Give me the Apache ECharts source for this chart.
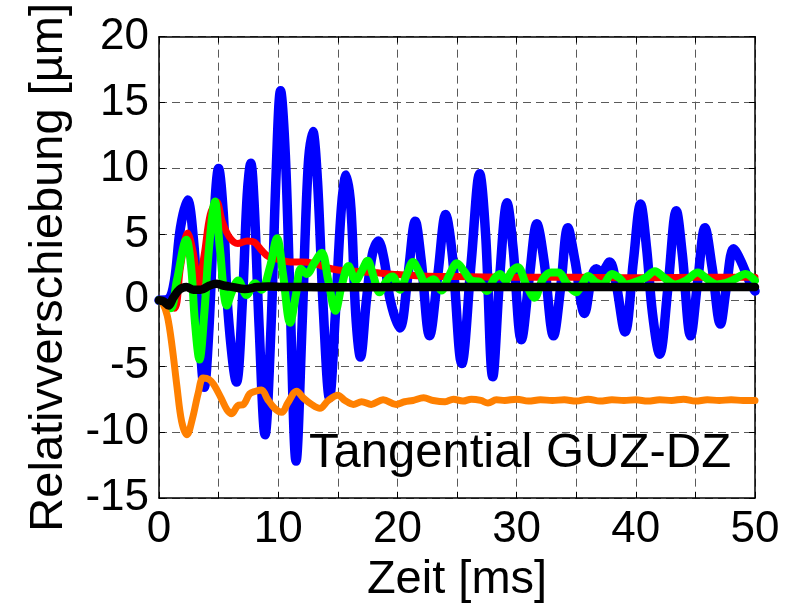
<!DOCTYPE html>
<html>
<head>
<meta charset="utf-8">
<script src="https://cdn.jsdelivr.net/npm/echarts@6/dist/echarts.min.js"></script>
<style>
  html, body { margin: 0; padding: 0; background: #fff; }
  #chart { width: 798px; height: 612px; }
</style>
</head>
<body>
<div id="chart"></div>
<script>
// Relative displacement traces, time in ms, displacement in µm
const blueT = [0, 0.8, 1.3, 1.8, 2.4, 2.9, 3.3, 3.8, 4.2, 4.6, 5.0, 5.4, 5.8, 6.5, 7.0, 7.4, 7.7, 8.0, 8.4, 8.9, 9.4, 9.8, 10.2, 10.6, 11.0, 11.5, 12.0, 12.5, 12.9, 13.3, 13.8, 14.3, 14.8, 15.3, 15.7, 16.1, 16.5, 16.9, 17.4, 17.9, 18.4, 18.9, 19.4, 20.2, 20.9, 21.5, 22.0, 22.7, 23.4, 24.05, 24.6, 25.4, 26.2, 26.9, 27.4, 28.0, 28.6, 29.2, 29.7, 30.4, 31.1, 31.7, 32.3, 33.1, 33.7, 34.3, 34.9, 35.7, 36.3, 36.7, 37.1, 37.8, 38.3, 39.1, 39.8, 40.4, 40.9, 41.4, 42.0, 42.7, 43.4, 43.9, 44.6, 45.2, 45.8, 46.4, 47.1, 47.6, 48.2, 48.8, 49.5, 50.0];
const blueY = [0, 0.1, 1.5, 5.5, 7.6, 4.5, -1.0, -6.6, -2.0, 6.0, 10.0, 6.5, -1.0, -6.2, 0, 8.0, 10.4, 7.0, -2.0, -10.2, -2.0, 9.0, 15.9, 11.0, 0, -12.2, -2.0, 10.0, 12.8, 9.0, -1.0, -7.4, -1.0, 7.0, 9.5, 7.0, -1.0, -4.3, 0, 3.5, 4.5, 3.0, 0, -2.1, 2.0, 6.0, 3.0, -2.7, 2.0, 6.5, 3.5, -4.8, 3.0, 9.6, 5.0, -5.8, 2.0, 7.4, 4.0, -3.0, 2.0, 5.8, 3.0, -2.7, 1.0, 5.5, 3.0, -1.0, 1.8, 2.4, 2.1, 2.9, 1.5, -2.4, 3.0, 7.3, 4.0, -1.0, -4.1, 1.0, 6.8, 3.5, -2.7, 1.5, 5.5, 2.5, -1.8, 1.0, 3.9, 3.0, 1.5, 0.7];

const redT = [0, 0.7, 1.3, 1.8, 2.4, 2.9, 3.3, 3.8, 4.3, 4.85, 5.3, 5.9, 6.6, 7.4, 8.0, 8.6, 9.2, 10.0, 11.0, 12.0, 13.0, 14.0, 15.0, 16.5, 18.0, 20.0, 22.0, 25.0, 30.0, 35.0, 40.0, 45.0, 50.0];
const redY = [0, -0.3, -0.6, 2.5, 5.1, 3.5, 1.2, 3.5, 6.5, 7.45, 6.0, 4.8, 4.3, 4.5, 4.4, 3.8, 3.3, 3.1, 2.9, 2.9, 2.8, 2.5, 2.3, 2.2, 2.1, 1.95, 1.85, 1.8, 1.75, 1.75, 1.7, 1.75, 1.75];

const greenT = [0, 0.6, 1.0, 1.5, 2.3, 2.7, 3.0, 3.4, 3.8, 4.2, 4.7, 5.1, 5.7, 6.1, 6.65, 7.35, 8.05, 8.6, 9.3, 9.9, 10.4, 11.0, 11.5, 11.9, 12.4, 13.0, 13.65, 14.2, 14.8, 15.3, 15.9, 16.5, 17.0, 17.5, 18.0, 18.5, 19.1, 19.6, 20.2, 20.8, 21.3, 21.8, 22.4, 23.0, 23.7, 24.3, 25.0, 25.6, 26.2, 26.9, 27.5, 28.1, 28.6, 29.1, 29.6, 30.1, 30.8, 31.5, 32.2, 32.9, 33.5, 34.2, 35.0, 35.5, 36.0, 36.6, 37.2, 38.0, 38.6, 39.2, 40.0, 40.8, 41.6, 42.4, 43.3, 44.2, 45.2, 46.0, 46.8, 47.5, 48.3, 49.2, 50.0];
const greenY = [0, -0.3, -0.6, 1.5, 4.6, 2.5, -1.5, -4.5, -1.0, 4.0, 7.5, 4.0, -0.4, 0.6, 1.5, 0.4, 1.3, 0.8, 2.5, 4.7, 2.0, -1.7, 0.5, 2.4, 2.0, 2.8, 3.6, 1.5, -0.8, 1.0, 2.6, 1.5, 2.2, 3.0, 1.8, 0.6, 1.5, 1.8, 0.8, 2.0, 2.9, 2.2, 1.3, 1.6, 0.75, 1.8, 2.8, 2.2, 1.5, 1.4, 0.7, 1.6, 2.0, 1.5, 2.2, 2.5, 1.2, 0.2, 1.6, 2.1, 2.1, 1.3, 0.6, 1.2, 1.85, 1.4, 1.2, 2.0, 1.7, 1.2, 1.4, 1.7, 2.2, 1.7, 1.2, 1.5, 2.1, 1.6, 1.2, 1.3, 1.6, 2.0, 1.5];

const orangeT = [0, 0.3, 0.7, 1.1, 1.5, 1.9, 2.35, 2.8, 3.3, 3.7, 4.2, 4.6, 5.2, 5.7, 6.1, 6.6, 7.1, 7.6, 8.1, 8.6, 9.1, 9.7, 10.3, 10.8, 11.55, 12.1, 12.8, 13.5, 14.2, 15.0, 15.6, 16.3, 17.0, 17.8, 18.8, 19.9, 20.6, 21.3, 22.2, 23.0, 24.0, 24.7, 25.5, 26.2, 27.0, 27.6, 28.3, 29.0, 30.0, 31.0, 32.0, 33.0, 34.0, 35.0, 36.0, 37.0, 38.0, 39.0, 40.0, 41.0, 42.0, 43.0, 44.0, 45.0, 46.0, 47.0, 48.0, 49.0, 50.0];
const orangeY = [0, -0.2, -1.2, -3.5, -6.5, -9.2, -10.2, -9.0, -7.0, -5.9, -6.0, -6.4, -7.4, -8.3, -8.6, -8.0, -7.9, -7.1, -6.9, -6.8, -7.5, -8.2, -8.5, -7.8, -6.9, -7.4, -7.9, -8.2, -7.6, -7.2, -7.6, -7.9, -7.7, -7.9, -7.55, -7.9, -7.7, -7.6, -7.4, -7.6, -7.7, -7.5, -7.65, -7.5, -7.6, -7.8, -7.55, -7.6, -7.5, -7.65, -7.55, -7.6, -7.55, -7.65, -7.5, -7.65, -7.55, -7.6, -7.55, -7.65, -7.55, -7.6, -7.5, -7.65, -7.55, -7.6, -7.55, -7.6, -7.6];

const blackT = [0, 0.4, 0.8, 1.2, 1.7, 2.3, 2.9, 3.5, 4.2, 4.8, 5.5, 6.2, 7.2, 8.2, 9.2, 10.5, 12.0, 15.0, 20.0, 25.0, 30.0, 35.0, 40.0, 45.0, 50.0];
const blackY = [0, -0.1, -0.4, 0.2, 0.8, 1.0, 0.8, 0.8, 1.1, 1.25, 1.1, 1.0, 0.85, 1.0, 1.05, 1.0, 1.0, 0.98, 1.0, 1.0, 1.0, 1.0, 1.0, 1.0, 1.0];

const xTicks = { min: 0, max: 50, step: 5 };
const yTicks = { min: -15, max: 20, step: 5 };
const annotation = 'Tangential GUZ-DZ';

const FONT = '"Liberation Sans", Arial, Helvetica, sans-serif';

function pairs(t, y) { return t.map((v, i) => [v, y[i]]); }

function trace(data, color, width) {
  return {
    type: 'line', data: data, showSymbol: false, smooth: 0.35,
    xAxisIndex: 0, yAxisIndex: 0,
    lineStyle: { color: color, width: width, cap: 'round', join: 'round' },
    emphasis: { disabled: true }
  };
}

const chart = echarts.init(document.getElementById('chart'), null, { renderer: 'canvas' });

const gridDash = { show: true, lineStyle: { color: '#5a5a5a', width: 1, type: [8, 5] } };
const boxLine = { show: true, onZero: false, lineStyle: { color: '#000', width: 1.5 } };
const inTick = { show: true, inside: true, length: 6, lineStyle: { color: '#000', width: 1 } };

chart.setOption({
  animation: false,
  textStyle: { fontFamily: FONT },
  grid: { left: 159, right: 43, top: 33, bottom: 114, containLabel: false },
  xAxis: [
    {
      type: 'value', position: 'bottom', min: xTicks.min, max: xTicks.max, interval: xTicks.step,
      axisLine: boxLine, axisTick: inTick, splitLine: gridDash,
      axisLabel: {
        color: '#000', fontSize: 44, fontFamily: FONT, margin: 10,
        formatter: v => (v % 10 === 0 ? String(v) : '')
      },
      name: 'Zeit [ms]', nameLocation: 'middle', nameGap: 58,
      nameTextStyle: { color: '#000', fontSize: 47, fontFamily: FONT }
    },
    {
      type: 'value', position: 'top', min: xTicks.min, max: xTicks.max, interval: xTicks.step,
      axisLine: boxLine, axisTick: inTick, splitLine: { show: false }, axisLabel: { show: false }
    }
  ],
  yAxis: [
    {
      type: 'value', position: 'left', min: yTicks.min, max: yTicks.max, interval: yTicks.step,
      axisLine: boxLine, axisTick: inTick, splitLine: gridDash,
      axisLabel: { color: '#000', fontSize: 44, fontFamily: FONT, margin: 10 },
      name: 'Relativverschiebung [µm]', nameLocation: 'middle', nameGap: 86,
      nameTextStyle: { color: '#000', fontSize: 47, fontFamily: FONT }
    },
    {
      type: 'value', position: 'right', min: yTicks.min, max: yTicks.max, interval: yTicks.step,
      axisLine: boxLine, axisTick: inTick, splitLine: { show: false }, axisLabel: { show: false }
    }
  ],
  series: [
    trace(pairs(blueT, blueY), '#0000ff', 9.5),
    trace(pairs(redT, redY), '#ff0000', 7),
    trace(pairs(greenT, greenY), '#00ff00', 8),
    trace(pairs(orangeT, orangeY), '#ff8000', 7),
    trace(pairs(blackT, blackY), '#000000', 8.5)
  ],
  graphic: [
    {
      type: 'text', left: 309, top: 429, z: 100,
      style: { text: annotation, fill: '#000', font: '49px ' + FONT }
    }
  ]
});
</script>
</body>
</html>
